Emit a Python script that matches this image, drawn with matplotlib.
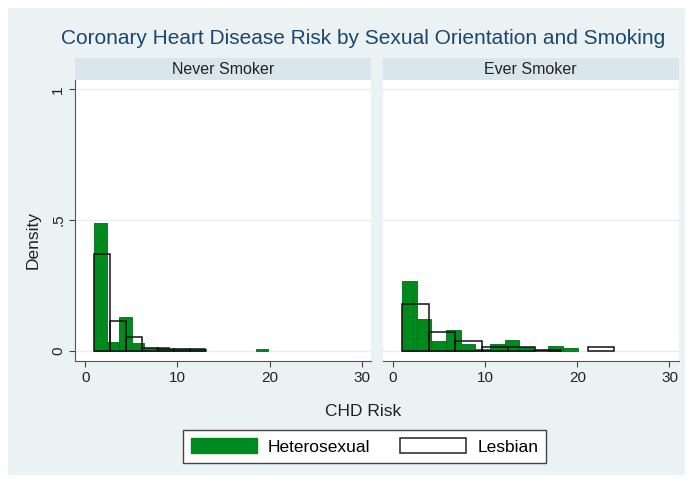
import numpy as np
import matplotlib.pyplot as plt
from matplotlib.patches import Patch, Rectangle

plt.rcParams['font.family'] = ['Liberation Sans', 'DejaVu Sans']

# histogram bins (density scale)
panels = ['Never Smoker', 'Ever Smoker']

never_het_start, never_het_width = 1.0, 1.345
never_het = [0.49, 0.034, 0.13, 0.028, 0.008, 0.015, 0.005, 0.005, 0.005,
             0, 0, 0, 0, 0.007]
never_les_start, never_les_width = 1.0, 1.72
never_les = [0.369, 0.115, 0.051, 0.009, 0.006, 0.006, 0.006]

ever_het_start, ever_het_width = 1.02, 1.585
ever_het = [0.265, 0.12, 0.035, 0.077, 0.026, 0.005, 0.026, 0.04, 0.015,
            0, 0.018, 0.008]
ever_les_start, ever_les_width = 1.02, 2.87
ever_les = [0.18, 0.07, 0.035, 0.015, 0.015, 0.003, 0, 0.013]

xticks = [0, 10, 20, 30]
yticks = [0, 0.5, 1]
yticklabels = ['0', '.5', '1']

bg = '#eaf2f3'
strip_col = '#d9e6eb'
green = '#008a1e'
navy = '#1a476f'

fig = plt.figure(figsize=(6.92, 4.82), dpi=100)
W, H = 692, 482
fig.patches.append(Rectangle((8 / W, 7 / H), 1 - 15 / W, 1 - 15 / H,
                             transform=fig.transFigure, facecolor=bg,
                             edgecolor='none', zorder=-10))


def draw_hist(ax, start, width, heights, **kw):
    h = np.array(heights, dtype=float)
    left = start + width * np.arange(len(h))
    keep = h > 0
    ax.bar(left[keep], h[keep], width=width, align='edge', **kw)


data = [
    (never_het_start, never_het_width, never_het,
     never_les_start, never_les_width, never_les),
    (ever_het_start, ever_het_width, ever_het,
     ever_les_start, ever_les_width, ever_les),
]
lefts = [75 / W, 382.7 / W]
pw = 296 / W
bottom = 1 - 361 / H
ph = 281 / H

for i, (name, d) in enumerate(zip(panels, data)):
    ax = fig.add_axes([lefts[i], bottom, pw, ph])
    ax.set_facecolor('white')
    for y in yticks:
        ax.axhline(y, color='#e4eeef', lw=0.9, zorder=0)
    draw_hist(ax, d[0], d[1], d[2], facecolor=green, edgecolor='#006b17',
              linewidth=0.6, zorder=2)
    draw_hist(ax, d[3], d[4], d[5], facecolor='none', edgecolor='#111111',
              linewidth=1.1, zorder=3)
    ax.set_xlim(-1.1, 31.0)
    ax.set_ylim(-0.04, 1.036)
    ax.set_xticks(xticks)
    ax.set_xticklabels([str(t) for t in xticks], fontsize=11, color='#222222')
    ax.tick_params(axis='x', length=4, width=0.8, color='#444444', pad=3)
    for s in ['top', 'right']:
        ax.spines[s].set_visible(False)
    ax.spines['bottom'].set_color('#555555')
    ax.spines['left'].set_color('#555555')
    if i == 0:
        ax.set_yticks(yticks)
        ax.set_yticklabels(yticklabels, fontsize=11, rotation=90,
                           va='center', color='#222222')
        ax.tick_params(axis='y', length=4, width=0.8, color='#444444', pad=3)
    else:
        ax.set_yticks([])
        ax.spines['left'].set_visible(False)

    # panel strip
    sax = fig.add_axes([lefts[i], 1 - 80 / H, pw, 21.7 / H])
    sax.set_facecolor(strip_col)
    sax.set_xticks([])
    sax.set_yticks([])
    for s in sax.spines.values():
        s.set_visible(False)
    sax.text(0.5, 0.48, name, ha='center', va='center', fontsize=11.5,
             color='#222222', transform=sax.transAxes)

fig.text(363 / W, 1 - 39 / H,
         'Coronary Heart Disease Risk by Sexual Orientation and Smoking',
         ha='center', va='center', fontsize=15, color=navy)
fig.text(33 / W, 1 - 240 / H, 'Density', rotation=90, ha='center',
         va='center', fontsize=12.5, color='#222222')
fig.text(363 / W, 1 - 412 / H, 'CHD Risk', ha='center', va='center',
         fontsize=12.5, color='#222222')

handles = [Patch(facecolor=green, edgecolor=green, label='Heterosexual'),
           Patch(facecolor='white', edgecolor='#222222', linewidth=1.1,
                 label='Lesbian')]
leg = fig.legend(handles=handles, loc='center', ncol=2,
                 bbox_to_anchor=(364.5 / W, 1 - 446.5 / H), fontsize=12.5,
                 frameon=True, fancybox=False, framealpha=1,
                 edgecolor='#444444', handlelength=3.8, handleheight=0.95,
                 handletextpad=0.65, columnspacing=1.7, borderpad=0.45)
leg.get_frame().set_linewidth(1.0)

fig.savefig('out.png', dpi=100, facecolor='white')
